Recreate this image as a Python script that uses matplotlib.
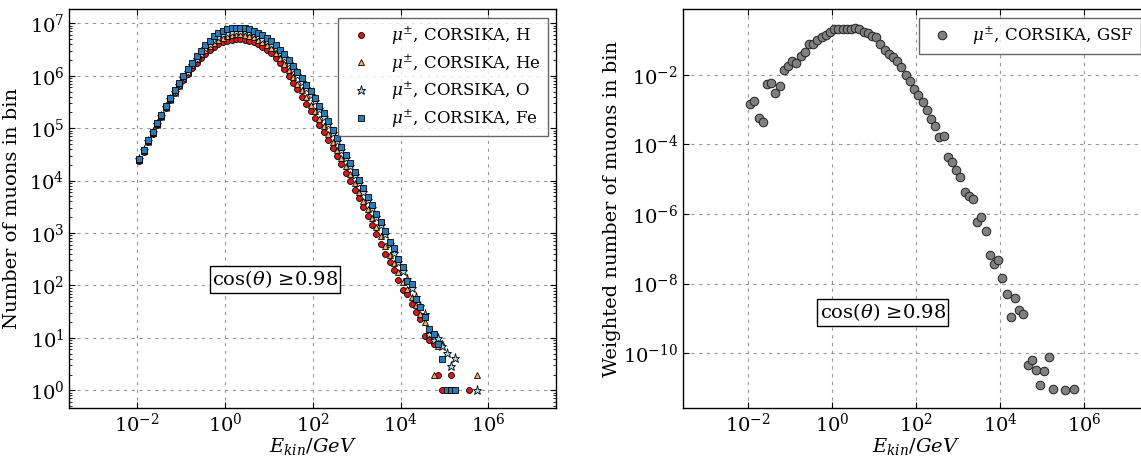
import numpy as np
import matplotlib
matplotlib.use("Agg")
import matplotlib.pyplot as plt
from matplotlib.ticker import FixedLocator, NullLocator, LogLocator, LogFormatterMathtext

# log10 of bin-centre kinetic energy / GeV
log_e = [-1.95, -1.85, -1.75, -1.65, -1.55, -1.45, -1.35, -1.25, -1.15, -1.05,
         -0.95, -0.85, -0.75, -0.65, -0.55, -0.45, -0.35, -0.25, -0.15, -0.05,
         0.05, 0.15, 0.25, 0.35, 0.45, 0.55, 0.65, 0.75, 0.85, 0.95,
         1.05, 1.15, 1.25, 1.35, 1.45, 1.55, 1.65, 1.75, 1.85, 1.95,
         2.05, 2.15, 2.25, 2.35, 2.45, 2.55, 2.65, 2.75, 2.85, 2.95,
         3.05, 3.15, 3.25, 3.35, 3.45, 3.55, 3.65, 3.75, 3.85, 3.95,
         4.05, 4.15, 4.25, 4.35, 4.45, 4.55, 4.65, 4.75, 4.85, 4.95,
         5.05, 5.15, 5.25, 5.35, 5.45, 5.55, 5.65, 5.75]

N = None
# log10(number of muons in bin)
h_log = [4.38, 4.55, 4.73, 4.89, 5.06, 5.22, 5.38, 5.53, 5.67, 5.80,
         5.92, 6.04, 6.15, 6.25, 6.34, 6.42, 6.49, 6.55, 6.60, 6.64,
         6.67, 6.69, 6.70, 6.70, 6.69, 6.67, 6.64, 6.60, 6.55, 6.49,
         6.43, 6.34, 6.24, 6.12, 6.00, 5.87, 5.74, 5.60, 5.47, 5.33,
         5.20, 5.06, 4.92, 4.77, 4.62, 4.46, 4.31, 4.15, 4.00, 3.83,
         3.66, 3.49, 3.32, 3.15, 2.98, 2.80, 2.60, 2.44, 2.29, 2.10,
         1.92, 1.83, 1.64, 1.50, 1.36, 1.04, 0.96, 0.88, 0.30, 0.00,
         N, 0.30, N, N, N, 0.00, N, N]
he_log = [4.40, 4.57, 4.75, 4.91, 5.08, 5.24, 5.41, 5.56, 5.71, 5.84,
          5.97, 6.09, 6.21, 6.31, 6.41, 6.49, 6.57, 6.63, 6.68, 6.72,
          6.75, 6.77, 6.79, 6.79, 6.78, 6.76, 6.73, 6.69, 6.64, 6.58,
          6.52, 6.44, 6.34, 6.23, 6.11, 5.98, 5.85, 5.72, 5.59, 5.45,
          5.32, 5.18, 5.04, 4.89, 4.74, 4.58, 4.43, 4.27, 4.12, 3.95,
          3.79, 3.62, 3.45, 3.28, 3.11, 2.94, 2.76, 2.58, 2.42, 2.25,
          2.06, 1.93, 1.78, 1.62, 1.46, 1.30, 1.10, 0.30, 0.85, 0.90,
          N, N, N, N, N, N, N, 0.30]
o_log = [4.41, 4.58, 4.76, 4.92, 5.08, 5.24, 5.40, 5.55, 5.69, 5.83,
         5.96, 6.08, 6.20, 6.32, 6.42, 6.52, 6.61, 6.68, 6.74, 6.79,
         6.82, 6.84, 6.86, 6.86, 6.85, 6.83, 6.80, 6.76, 6.71, 6.66,
         6.60, 6.52, 6.44, 6.35, 6.24, 6.13, 6.01, 5.89, 5.77, 5.64,
         5.51, 5.37, 5.22, 5.07, 4.91, 4.75, 4.59, 4.43, 4.27, 4.11,
         3.95, 3.79, 3.63, 3.47, 3.31, 3.15, 2.98, 2.80, 2.62, 2.44,
         2.28, 2.12, 1.95, 1.78, 1.60, 1.45, 1.08, 0.96, 1.00, 0.85,
         0.71, 0.47, 0.61, N, N, N, N, 0.00]
fe_log = [4.42, 4.59, 4.77, 4.93, 5.10, 5.26, 5.42, 5.57, 5.72, 5.86,
          5.99, 6.12, 6.25, 6.37, 6.48, 6.58, 6.67, 6.75, 6.81, 6.86,
          6.89, 6.91, 6.92, 6.92, 6.91, 6.89, 6.86, 6.82, 6.77, 6.72,
          6.66, 6.58, 6.50, 6.41, 6.30, 6.19, 6.07, 5.95, 5.83, 5.70,
          5.57, 5.43, 5.28, 5.13, 4.97, 4.81, 4.65, 4.49, 4.33, 4.17,
          4.01, 3.85, 3.69, 3.53, 3.37, 3.21, 3.03, 2.83, 2.72, 2.51,
          2.36, 2.09, 2.02, 1.74, 1.58, 1.39, 1.17, 1.07, 0.89, 0.60,
          0.00, 0.00, 0.00, N, N, N, N, N]
# log10(weighted number of muons in bin), GSF weighting
gsf_log = [-2.85, -2.75, -3.23, -3.37, -2.26, -2.24, -2.51, -2.33, -1.86, -1.76,
           -1.60, -1.66, -1.46, -1.34, -1.13, -1.13, -1.01, -0.92, -0.85, -0.76,
           -0.70, -0.70, -0.69, -0.68, -0.69, -0.65, -0.70, -0.76, -0.81, -0.88,
           -0.93, -1.12, -1.28, -1.40, -1.50, -1.61, -1.78, -2.00, -2.18, -2.40,
           -2.57, -2.77, -3.02, -3.28, -3.46, -3.80, -3.75, -4.35, -4.52, -4.73,
           -4.93, -5.38, -5.47, -5.56, -6.22, -6.09, -6.50, -7.17, -7.45, -7.33,
           -7.85, -8.31, -8.95, -8.40, -8.75, -8.86, -10.34, -10.19, -10.48, -10.92,
           -10.50, -10.12, -11.02, N, N, -11.06, N, -11.04]

labels_left = [r"$\mu^{\pm}$, CORSIKA, H", r"$\mu^{\pm}$, CORSIKA, He",
               r"$\mu^{\pm}$, CORSIKA, O", r"$\mu^{\pm}$, CORSIKA, Fe"]
label_right = r"$\mu^{\pm}$, CORSIKA, GSF"
cut_text = r"$\cos(\theta)$ ≥0.98"

x_ticks = [1e-2, 1e0, 1e2, 1e4, 1e6]
y_ticks_left = [1e0, 1e1, 1e2, 1e3, 1e4, 1e5, 1e6, 1e7]
y_ticks_right = [1e-10, 1e-8, 1e-6, 1e-4, 1e-2]


def to_lin(vals):
    return np.array([np.nan if v is None else 10.0 ** v for v in vals])


energy = 10.0 ** np.array(log_e)

plt.rcParams.update({
    "font.family": ["DejaVu Serif"],
    "mathtext.fontset": "dejavuserif",
    "font.size": 14,
    "xtick.direction": "in",
    "ytick.direction": "in",
    "xtick.top": True,
    "ytick.right": True,
    "xtick.major.size": 4,
    "ytick.major.size": 4,
    "xtick.minor.size": 2,
    "ytick.minor.size": 2,
    "axes.linewidth": 1.0,
})

fig = plt.figure(figsize=(11.41, 4.57), dpi=100)
ax1 = fig.add_axes([0.0607, 0.1072, 0.4266, 0.8724])
ax2 = fig.add_axes([0.5986, 0.1072, 0.4084, 0.8724])

styles = [
    dict(marker="o", mfc="#d7191c", ms=4.3),
    dict(marker="^", mfc="#fdae61", ms=4.6),
    dict(marker="*", mfc="#abd9e9", ms=6.6),
    dict(marker="s", mfc="#2c7bb6", ms=4.6),
]
series = [h_log, he_log, o_log, fe_log]
for s, st, lab in zip(series, styles, labels_left):
    ax1.plot(energy, to_lin(s), ls="none", mec="k", mew=0.6, label=lab, **st)

ax2.plot(energy, to_lin(gsf_log), ls="none", marker="o", mfc="#808080",
         mec="#222222", mew=0.7, ms=6.2, label=label_right)

for ax in (ax1, ax2):
    ax.set_xscale("log")
    ax.set_yscale("log")
    ax.set_xlim(10 ** -3.55, 10 ** 7.54)
    ax.xaxis.set_major_locator(FixedLocator(x_ticks))
    ax.xaxis.set_major_formatter(LogFormatterMathtext())
    ax.xaxis.set_minor_locator(NullLocator())
    ax.grid(True, ls="--", color="0.6", lw=0.8, dashes=(3, 4))
    ax.set_axisbelow(True)
    ax.set_xlabel(r"$E_{kin}/GeV$", labelpad=0)
    leg = ax.legend(loc="upper right", numpoints=1, fontsize=12,
                    framealpha=0.8, fancybox=False, handlelength=2.0,
                    borderpad=0.4, labelspacing=0.3)
    leg.get_frame().set_edgecolor("0.25")
    leg.get_frame().set_linewidth(1.0)

ax1.set_ylim(10 ** -0.338, 10 ** 7.267)
ax1.yaxis.set_major_locator(FixedLocator(y_ticks_left))
ax1.yaxis.set_major_formatter(LogFormatterMathtext())
ax1.yaxis.set_minor_locator(LogLocator(base=10, subs=np.arange(2, 10)))
ax2.set_ylim(10 ** -11.572, 10 ** -0.121)
ax2.yaxis.set_major_locator(FixedLocator(y_ticks_right))
ax2.yaxis.set_major_formatter(LogFormatterMathtext())
ax2.yaxis.set_minor_locator(NullLocator())

ax1.set_ylabel("Number of muons in bin", labelpad=6)
ax2.set_ylabel("Weighted number of muons in bin", labelpad=2)

bbox = dict(facecolor="white", edgecolor="black", boxstyle="square,pad=0.12", lw=1.0)
ax1.text(0.5, 1e2, cut_text, bbox=bbox)
ax2.text(0.5, 1e-9, cut_text, bbox=bbox)

fig.savefig("out.png", dpi=100, facecolor="white")
